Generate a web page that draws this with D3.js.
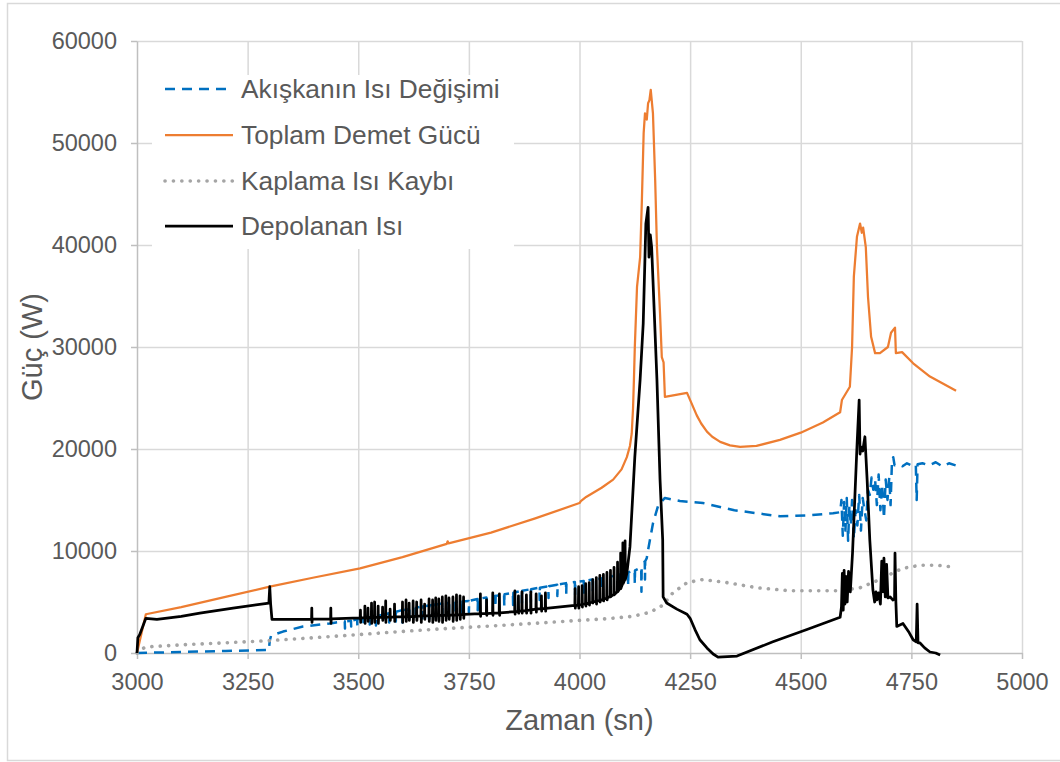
<!DOCTYPE html>
<html>
<head>
<meta charset="utf-8">
<script src="https://cdn.jsdelivr.net/npm/d3@7"></script>
<style>
  html, body { margin: 0; padding: 0; background: #fff; }
  svg { display: block; font-family: "Liberation Sans", Arial, sans-serif; }
</style>
</head>
<body>
<svg id="chart" width="1060" height="762"></svg>
<script>
// Time axis ticks (s) and power axis ticks (W)
const xTicks = [3000, 3250, 3500, 3750, 4000, 4250, 4500, 4750, 5000];
const yTicks = [0, 10000, 20000, 30000, 40000, 50000, 60000];

const seriesNames = ["Akışkanın Isı Değişimi", "Toplam Demet Gücü", "Kaplama Isı Kaybı", "Depolanan Isı"];

// Akışkanın Isı Değişimi: [time, W]
const fluidHeat = [
  [3000,0],[3100,100],[3200,200],[3298,300],[3300,1200],[3303,1700],[3330,2100],[3375,2600],[3436,2900],[3450,3000],
  [3469.5,3100],[3470,2400],[3470.5,3100],[3483.5,3150],[3484,2600],[3484.5,3150],
  [3497.5,3300],[3498,2700],[3498.5,3300],[3511.5,3400],[3512,2600],[3512.5,3400],
  [3525.5,3500],[3526,2800],[3526.5,3500],[3539.5,3600],[3540,2700],[3540.5,3600],
  [3555.5,3750],[3556,3000],[3556.5,3750],[3569.5,3900],[3570,3000],[3570.5,3900],
  [3584.5,4050],[3585,3100],[3585.5,4050],[3599.5,4200],[3600,3000],[3600.5,4200],
  [3614.5,4300],[3615,3200],[3615.5,4300],[3629.5,4450],[3630,3300],[3630.5,4450],
  [3644.5,4550],[3645,3400],[3645.5,4550],[3659.5,4650],[3660,3300],[3660.5,4650],
  [3674.5,4750],[3675,3500],[3675.5,4750],[3689.5,4850],[3690,3600],[3690.5,4850],
  [3704.5,4900],[3705,3700],[3705.5,4900],[3719.5,5000],[3720,3800],[3720.5,5000],
  [3734.5,5050],[3735,3900],[3735.5,5050],[3749.5,5100],[3750,4000],[3750.5,5100],
  [3769.5,5300],[3770,4200],[3770.5,5300],[3789.5,5450],[3790,4300],[3790.5,5450],
  [3809.5,5600],[3810,4500],[3810.5,5600],[3829.5,5750],[3830,4600],[3830.5,5750],
  [3849.5,5900],[3850,4700],[3850.5,5900],[3869.5,6100],[3870,4900],[3870.5,6100],
  [3889.5,6250],[3890,5000],[3890.5,6250],[3909.5,6400],[3910,5200],[3910.5,6400],
  [3929.5,6550],[3930,5400],[3930.5,6550],[3949.5,6700],[3950,5600],[3950.5,6700],
  [3969.5,6850],[3970,5800],[3970.5,6850],[3989.5,6950],[3990,5600],[3990.5,6950],
  [4009.5,7050],[4010,5800],[4010.5,7050],[4029.5,7200],[4030,6000],[4030.5,7200],
  [4049.5,7300],[4050,6200],[4050.5,7300],[4069.5,7500],[4070,6300],[4070.5,7500],
  [4089.5,7700],[4090,6500],[4090.5,7700],[4109.5,7900],[4110,6600],[4110.5,7900],
  [4124.5,8100],[4125,6800],[4125.5,8100],[4139.5,8400],[4140,6000],[4140.5,8400],
  [4147.5,9000],[4148,7200],[4148.5,9000],
  [4152,9300],[4155,10100],[4166,12700],[4178,14500],[4193,15200],[4227,14900],[4279,14700],
  [4350,14000],[4453,13400],[4520,13500],[4573,13700],[4589,13800],
  [4592,15000],[4595,11500],[4598,14800],[4601,12000],[4604,15200],[4607,11000],[4610,14500],
  [4613,12500],[4616,15000],[4620,11200],[4624,14000],[4628,12500],[4632,15500],[4636,12000],
  [4640,15200],[4644,14000],[4648,13000],[4652,16000],[4656,15500],[4660,17200],[4664,16000],
  [4668,17000],[4672,14500],[4676,17500],[4680,14000],[4684,16500],[4688,13200],[4692,17000],
  [4696,15000],[4700,17200],[4703,14500],[4706,18600],[4709,19200],[4712,18400],[4720,18500],
  [4730,18300],[4740,18600],[4750,18400],[4760,18500],[4762,15000],[4764,18500],[4775,18600],
  [4790,18400],[4805,18700],[4820,18300],[4835,18600],[4850,18400]
];

// Toplam Demet Gücü: [time, W]
const beamPower = [
  [3000,0],[3020,3800],[3100,4500],[3200,5500],[3300,6500],[3400,7400],[3504,8300],[3600,9400],
  [3700,10700],[3702,10950],[3704,10750],[3800,11800],[3900,13200],[4000,14700],[4003,14900],
  [4015,15300],[4050,16200],[4076,17000],[4095,18000],[4107,19200],[4114,20300],[4118,21500],[4121,24000],
  [4123,26800],[4125,30000],[4130,35900],[4137,38800],[4141,44400],[4145,51000],[4148,52900],
  [4152,52300],[4155,53900],[4158,54200],[4161,55200],[4166,52900],[4171,46400],[4175,39800],
  [4182,33300],[4186,29000],[4190,28500],[4193,25100],[4243,25500],[4255,24300],[4265,23300],
  [4275,22500],[4288,21700],[4300,21200],[4318,20700],[4340,20350],[4363,20200],[4400,20300],
  [4453,20900],[4500,21600],[4550,22600],[4589,23600],[4593,24800],
  [4611,26100],[4616,30000],[4620,36900],[4627,40800],[4634,42100],[4638,41200],[4641,41700],
  [4647,39800],[4652,34900],[4659,31000],[4668,29400],[4679,29400],[4697,30000],[4704,31400],
  [4713,31900],[4715,29400],[4729,29500],[4754,28400],[4792,27100],[4851,25700]
];

// Kaplama Isı Kaybı: [time, W]
const coatingLoss = [
  [3000,0],[3010,400],[3022,600],[3100,800],[3200,1000],[3294,1200],[3400,1500],[3500,1800],
  [3594,2100],[3700,2400],[3800,2650],[3895,2900],[4000,3200],[4060,3350],[4121,3600],[4160,4000],
  [4189,4700],[4211,5900],[4243,6900],[4279,7200],[4333,6900],[4401,6400],[4476,6100],[4589,6100],
  [4634,6400],[4679,7200],[4710,7900],[4731,8300],[4769,8600],[4810,8600],[4850,8400]
];

// Depolanan Isı: [time, W]
const storedHeat = [
  [3000,0],[3002,1500],[3006,1800],[3020,3400],[3045,3300],[3100,3600],[3142,3900],[3217,4400],
  [3298,4900],[3300,6500],[3302,4800],[3305,3300],[3330,3300],
  [3394.5,3320],[3395,4400],[3395.5,3000],[3396,3320],[3437.5,3340],[3438,4400],[3438.5,2900],[3439,3340],
  [3504.5,3450],[3505,4200],[3505.5,3000],[3506,3450],[3514.5,3460],[3515,4600],[3515.5,2900],[3516,3460],
  [3521.5,3470],[3522,4400],[3522.5,3100],[3523,3470],[3529.5,3480],[3530,4900],[3530.5,2900],[3531,3480],
  [3536.5,3490],[3537,5000],[3537.5,3000],[3538,3490],[3544.5,3490],[3545,4600],[3545.5,2900],[3546,3490],
  [3554.5,3500],[3555,4500],[3555.5,3200],[3556,3500],[3561.5,3510],[3562,5100],[3562.5,3000],[3563,3510],
  [3571.5,3520],[3572,4300],[3572.5,3200],[3573,3520],[3581.5,3530],[3582,4800],[3582.5,3100],[3583,3530],
  [3599.5,3550],[3600,5000],[3600.5,3000],[3601,3550],[3607.5,3560],[3608,5200],[3608.5,3100],[3609,3560],
  [3614.5,3570],[3615,4900],[3615.5,3200],[3616,3570],[3623.5,3590],[3624,5100],[3624.5,3000],[3625,3590],
  [3631.5,3600],[3632,5000],[3632.5,3200],[3633,3600],[3641.5,3630],[3642,5200],[3642.5,3000],[3643,3630],
  [3649.5,3650],[3650,4800],[3650.5,3300],[3651,3650],[3659.5,3660],[3660,5300],[3660.5,3100],[3661,3660],
  [3667.5,3670],[3668,5200],[3668.5,3000],[3669,3670],[3674.5,3680],[3675,5400],[3675.5,3200],[3676,3680],
  [3681.5,3690],[3682,5300],[3682.5,3100],[3683,3690],[3689.5,3690],[3690,5500],[3690.5,3000],[3691,3690],
  [3697.5,3700],[3698,5600],[3698.5,3200],[3699,3700],[3704.5,3710],[3705,5400],[3705.5,3300],[3706,3710],
  [3713.5,3720],[3714,5500],[3714.5,3100],[3715,3720],[3721.5,3740],[3722,5700],[3722.5,3200],[3723,3740],
  [3729.5,3760],[3730,5600],[3730.5,3300],[3731,3760],[3737.5,3780],[3738,5500],[3738.5,3400],[3739,3780],
  [3775.5,3850],[3776,5800],[3776.5,3600],[3777,3850],[3789.5,3870],[3790,5200],[3790.5,3700],[3791,3870],
  [3803.5,3900],[3804,5900],[3804.5,3700],[3805,3900],[3818.5,3930],[3819,5800],[3819.5,3700],[3820,3930],
  [3853.5,4050],[3854,6100],[3854.5,3800],[3855,4050],[3861.5,4080],[3862,5600],[3862.5,3900],[3863,4080],
  [3869.5,4120],[3870,6000],[3870.5,3900],[3871,4120],[3879.5,4160],[3880,5700],[3880.5,3900],[3881,4160],
  [3889.5,4220],[3890,6000],[3890.5,3900],[3891,4220],[3901.5,4300],[3902,5800],[3902.5,4000],[3903,4300],
  [3913.5,4340],[3914,5600],[3914.5,4100],[3915,4340],[3922.5,4380],[3923,5900],[3923.5,4100],[3924,4380],
  [3989.5,4680],[3990,6300],[3990.5,4400],[3991,4680],[3997.5,4700],[3998,6500],[3998.5,4400],[3999,4700],
  [4005.5,4760],[4006,6600],[4006.5,4500],[4007,4760],[4013.5,4840],[4014,6800],[4014.5,4600],[4015,4840],
  [4021.5,4920],[4022,6900],[4022.5,4700],[4023,4920],[4029.5,5000],[4030,7200],[4030.5,4900],[4031,5000],
  [4037.5,5080],[4038,7400],[4038.5,4800],[4039,5080],[4045.5,5160],[4046,7600],[4046.5,5000],[4047,5160],
  [4053.5,5260],[4054,7700],[4054.5,5100],[4055,5260],[4061.5,5400],[4062,7900],[4062.5,5200],[4063,5400],
  [4069.5,5550],[4070,8100],[4070.5,5500],[4071,5550],[4077.5,5750],[4078,8400],[4078.5,5700],[4079,5750],
  [4085.5,6000],[4086,8900],[4086.5,6000],[4092.5,6400],[4093,9800],[4093.5,6300],[4094,6400],
  [4097.5,6800],[4098,10800],[4098.5,6800],[4102.5,7200],[4103,11000],[4103.5,7200],
  [4107,7800],[4114,10400],[4125,19200],[4137,26800],[4144,32300],[4150,42100],
  [4155,43700],[4157,38800],[4160,41000],[4163,39800],[4166,36600],[4175,26800],[4182,17000],
  [4188,11100],[4189,5500],[4197,4900],[4220,4300],[4243,3800],[4250,3400],[4261,2300],[4272,1300],
  [4288,500],[4302,-100],[4313,-400],[4356,-300],[4437,1100],[4514,2300],[4589,3500],
  [4592,4500],[4594,7800],[4596,4200],[4598,8100],[4600,4800],[4603,7500],[4605,5000],[4608,8000],
  [4612,6000],[4617,9800],[4622,15000],[4627,20200],[4632,24800],[4634,19500],[4636,20200],
  [4640,19800],[4645,21200],[4650,17000],[4656,11100],[4663,6200],[4667,5000],[4670,6000],
  [4672,5200],[4676,5900],[4680,4800],[4683,9000],[4686,6000],[4688,9300],[4691,5500],[4694,8700],
  [4697,5400],[4702,5500],[4708,5200],[4712,5300],[4713,9800],[4715,5000],[4717,2600],[4731,2900],
  [4745,2000],[4754,1300],[4761,1100],[4763,4800],[4765,1000],[4769,1000],[4780,500],[4792,100],
  [4805,0],[4815,-200]
];

const svg = d3.select("#chart");
const W = 1060, H = 762;
const plot = { left: 137, right: 1022, top: 41, bottom: 653 };

// Outer chart frame
svg.append("rect")
  .attr("x", 7.5).attr("y", 3.5)
  .attr("width", W).attr("height", H - 5)
  .attr("fill", "#fff").attr("stroke", "#d9d9d9").attr("stroke-width", 1.5);

const x = d3.scaleLinear().domain([3000, 5000]).range([plot.left, plot.right]);
const y = d3.scaleLinear().domain([0, 60000]).range([plot.bottom, plot.top]);

const gridColor = "#d9d9d9";
const axisColor = "#bfbfbf";
const textColor = "#595959";

// Gridlines
const gx = svg.append("g")
  .attr("transform", `translate(0,${plot.bottom})`)
  .call(d3.axisBottom(x).tickValues(xTicks.slice(1)).tickSize(-(plot.bottom - plot.top)).tickFormat(""));
gx.select(".domain").remove();
gx.selectAll("line").attr("stroke", gridColor).attr("stroke-width", 1.5);

const gy = svg.append("g")
  .attr("transform", `translate(${plot.left},0)`)
  .call(d3.axisLeft(y).tickValues(yTicks.slice(1)).tickSize(-(plot.right - plot.left)).tickFormat(""));
gy.select(".domain").remove();
gy.selectAll("line").attr("stroke", gridColor).attr("stroke-width", 1.5);

// Axes
const xAxis = svg.append("g")
  .attr("transform", `translate(0,${plot.bottom})`)
  .call(d3.axisBottom(x).tickValues(xTicks).tickSize(6).tickPadding(14).tickSizeOuter(0).tickFormat(d3.format("d")));
xAxis.select(".domain").attr("stroke", axisColor).attr("stroke-width", 1.5);
xAxis.selectAll(".tick line").attr("stroke", axisColor).attr("stroke-width", 1.5);
xAxis.selectAll("text").attr("fill", textColor).style("font-size", "23.5px");

const yAxis = svg.append("g")
  .attr("transform", `translate(${plot.left},0)`)
  .call(d3.axisLeft(y).tickValues(yTicks).tickSize(6).tickPadding(14).tickSizeOuter(0).tickFormat(d3.format("d")));
yAxis.select(".domain").attr("stroke", axisColor).attr("stroke-width", 1.5);
yAxis.selectAll(".tick line").attr("stroke", axisColor).attr("stroke-width", 1.5);
yAxis.selectAll("text").attr("fill", textColor).style("font-size", "23.5px");

// Axis titles
svg.append("text")
  .attr("x", (plot.left + plot.right) / 2).attr("y", 730)
  .attr("text-anchor", "middle").attr("fill", textColor)
  .style("font-size", "29px").text("Zaman (sn)");

svg.append("text")
  .attr("transform", `translate(42,${(plot.top + plot.bottom) / 2}) rotate(-90)`)
  .attr("text-anchor", "middle").attr("fill", textColor)
  .style("font-size", "29px").text("Güç (W)");

// Series styles
const styles = [
  { data: fluidHeat,   color: "#0070c0", width: 2.5, dash: "10,7",   cap: "butt" },
  { data: beamPower,   color: "#ed7d31", width: 2.25, dash: null,    cap: "butt" },
  { data: coatingLoss, color: "#a5a5a5", width: 3.6, dash: "0.1,8.3", cap: "round" },
  { data: storedHeat,  color: "#000000", width: 2.75, dash: null,    cap: "butt" }
];

const line = d3.line().x(d => x(d[0])).y(d => y(d[1]));

styles.forEach(s => {
  svg.append("path")
    .datum(s.data)
    .attr("d", line)
    .attr("fill", "none")
    .attr("stroke", s.color)
    .attr("stroke-width", s.width)
    .attr("stroke-linejoin", "round")
    .attr("stroke-linecap", s.cap)
    .attr("stroke-dasharray", s.dash);
});

// Legend
const legend = svg.append("g");
legend.append("rect")
  .attr("x", 152).attr("y", 75).attr("width", 362).attr("height", 174)
  .attr("fill", "#fff");

const rowY = [89, 135, 181, 226];
seriesNames.forEach((name, i) => {
  const s = styles[i];
  legend.append("line")
    .attr("x1", 165).attr("x2", 233)
    .attr("y1", rowY[i]).attr("y2", rowY[i])
    .attr("stroke", s.color)
    .attr("stroke-width", s.width)
    .attr("stroke-linecap", s.cap)
    .attr("stroke-dasharray", s.dash);
  legend.append("text")
    .attr("x", 241).attr("y", rowY[i])
    .attr("dy", "0.35em")
    .attr("fill", textColor)
    .style("font-size", "26.3px")
    .text(name);
});
</script>
</body>
</html>
